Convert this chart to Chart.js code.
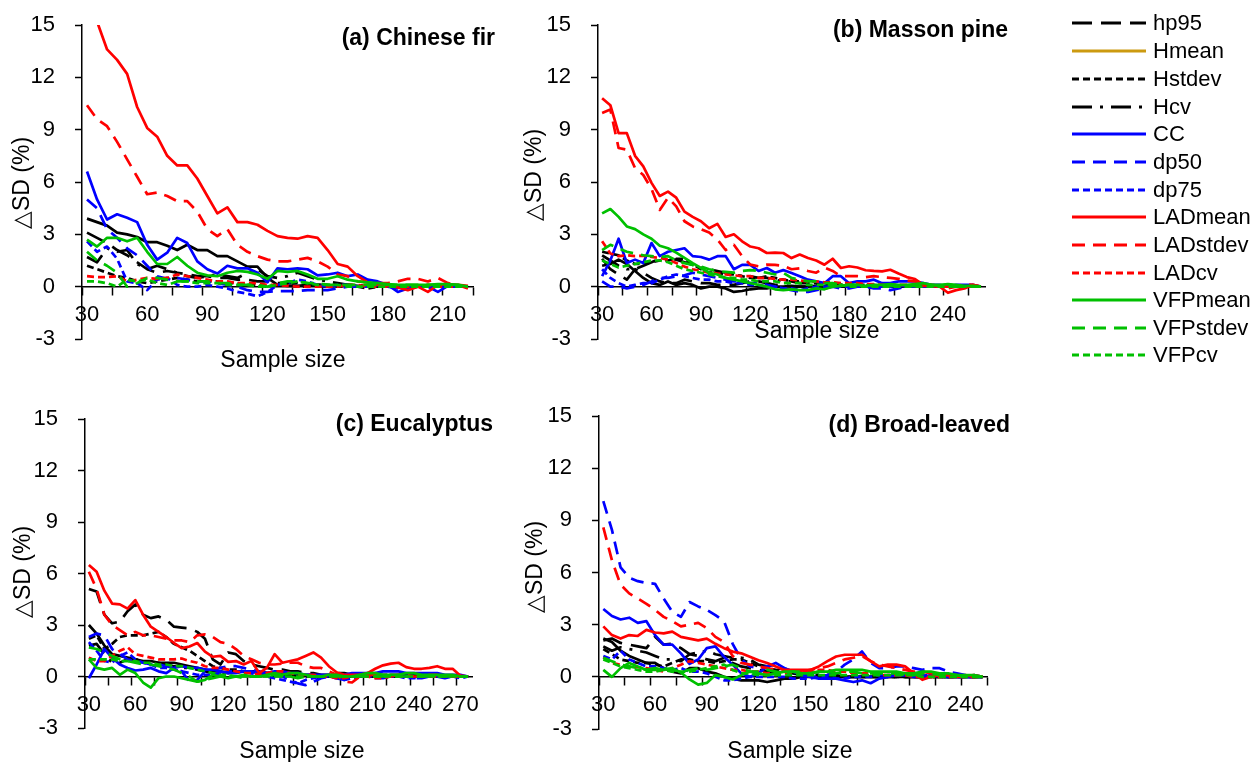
<!DOCTYPE html>
<html>
<head>
<meta charset="utf-8">
<script src="https://cdn.jsdelivr.net/npm/chart.js@4.4.1/dist/chart.umd.min.js"></script>
<style>
  body { margin: 0; width: 1255px; height: 762px; position: relative; overflow: hidden; background: #fff;
         font-family: 'Liberation Sans', Arial, sans-serif; color: #000; }
  canvas { position: absolute; }
  .lbl { position: absolute; white-space: nowrap; font-size: 23px; line-height: 26px; }
  .ptitle { font-weight: bold; text-align: right; }
  .ytitle { transform: translate(-50%, -50%) rotate(-90deg); }
  .xtitle { transform: translate(-50%, -50%); }
  .item { position: absolute; left: 1072px; height: 26px; display: flex; align-items: center;
          font-size: 22px; white-space: nowrap; }
  .item svg { margin-right: 7px; }
</style>
</head>
<body>
<canvas id="chartA" width="500" height="384" style="left:0;top:-10px"></canvas>
<canvas id="chartB" width="500" height="384" style="left:510px;top:-10px"></canvas>
<canvas id="chartC" width="500" height="379" style="left:0;top:384px"></canvas>
<canvas id="chartD" width="500" height="383" style="left:510px;top:381px"></canvas>

<div class="lbl ptitle" style="right:760px;top:24px">(a) Chinese fir</div>
<div class="lbl ptitle" style="right:247px;top:16px">(b) Masson pine</div>
<div class="lbl ptitle" style="right:762px;top:410px">(c) Eucalyptus</div>
<div class="lbl ptitle" style="right:245px;top:411px">(d) Broad-leaved</div>

<div class="lbl ytitle" style="left:21px;top:183px">△SD (%)</div>
<div class="lbl ytitle" style="left:533px;top:175px">△SD (%)</div>
<div class="lbl ytitle" style="left:22px;top:572px">△SD (%)</div>
<div class="lbl ytitle" style="left:534px;top:567px">△SD (%)</div>

<div class="lbl xtitle" style="left:283px;top:359px">Sample size</div>
<div class="lbl xtitle" style="left:817px;top:330px">Sample size</div>
<div class="lbl xtitle" style="left:302px;top:750px">Sample size</div>
<div class="lbl xtitle" style="left:790px;top:750px">Sample size</div>

<div id="legend"></div>

<script>
// ---- sample sizes (categories) ----
const sizesA = [30, 35, 40, 45, 50, 55, 60, 65, 70, 75, 80, 85, 90, 95, 100, 105, 110, 115, 120, 125,
  130, 135, 140, 145, 150, 155, 160, 165, 170, 175, 180, 185, 190, 195, 200, 205, 210, 215, 220];
const sizesB = [30, 35, 40, 45, 50, 55, 60, 65, 70, 75, 80, 85, 90, 95, 100, 105, 110, 115, 120, 125,
  130, 135, 140, 145, 150, 155, 160, 165, 170, 175, 180, 185, 190, 195, 200, 205, 210, 215, 220, 225,
  230, 235, 240, 245, 250, 255, 260];
const sizesC = [30, 35, 40, 45, 50, 55, 60, 65, 70, 75, 80, 85, 90, 95, 100, 105, 110, 115, 120, 125,
  130, 135, 140, 145, 150, 155, 160, 165, 170, 175, 180, 185, 190, 195, 200, 205, 210, 215, 220, 225,
  230, 235, 240, 245, 250, 255, 260, 265, 270, 275];
const sizesD = [30, 35, 40, 45, 50, 55, 60, 65, 70, 75, 80, 85, 90, 95, 100, 105, 110, 115, 120, 125,
  130, 135, 140, 145, 150, 155, 160, 165, 170, 175, 180, 185, 190, 195, 200, 205, 210, 215, 220, 225,
  230, 235, 240, 245, 250];

// ---- (a) Chinese fir ----
const hp95A = [3.1, 2.8, 2.5, 2.1, 1.8, 1.4, 1.0, 0.8, 0.9, 0.8,
  0.7, 0.6, 0.6, 0.5, 0.5, 0.4, 0.4, 0.3, 0.3, 0.2,
  0.2, 0.2, 0.1, 0.1, 0.1, 0.1, 0.1, 0.0, 0.0, 0.0,
  0.0, 0.0, 0.0, 0.1, 0.0, 0.0, 0.1, 0.0, 0.0];
const hMeanA = [3.9, 3.7, 3.5, 3.1, 3.0, 2.85, 2.55, 2.55, 2.35, 2.1,
  2.4, 2.1, 2.1, 1.75, 1.75, 1.45, 1.15, 1.15, 0.5, 0.1,
  0.05, 0.05, 0.1, 0.05, 0.0, 0.05, 0.1, 0.05, 0.0, 0.05,
  0.1, 0.05, 0.0, 0.05, 0.0, 0.05, 0.1, 0.05, 0.0];
const hStdevA = [1.2, 1.0, 0.8, 0.6, 0.5, 0.3, 0.2, 0.3, 0.4, 0.5,
  0.4, 0.3, 0.3, 0.3, 0.2, 0.2, 0.1, 0.1, 0.0, 0.1,
  0.1, 0.0, 0.0, 0.1, 0.1, 0.0, 0.0, 0.0, -0.1, 0.0,
  0.0, 0.0, 0.0, 0.0, 0.0, 0.0, 0.0, 0.0, 0.0];
const hCvA = [1.7, 1.4, 2.2, 2.0, 2.1, 1.3, 1.0, 1.2, 1.0, 0.8,
  0.6, 0.5, 0.6, 0.7, 0.6, 0.5, 0.8, 1.0, 0.6, 0.5,
  0.6, 0.8, 0.6, 0.4, 0.3, 0.2, 0.1, 0.1, 0.0, 0.0,
  0.1, 0.0, 0.0, 0.0, 0.0, 0.0, 0.0, 0.0, 0.0];
const ccA = [6.6, 5.0, 3.85, 4.15, 3.95, 3.7, 2.4, 1.55, 1.95, 2.8,
  2.5, 1.45, 1.0, 0.75, 1.2, 1.05, 1.05, 0.8, 0.25, 1.05,
  1.0, 1.05, 1.0, 0.65, 0.7, 0.8, 0.6, 0.7, 0.4, 0.3,
  0.1, -0.3, -0.1, 0.0, 0.0, -0.3, 0.05, 0.0, 0.0];
const dp50A = [5.0, 4.5, 3.3, 2.8, 2.2, 1.8, 1.2, 0.6, 0.45, 0.5,
  0.4, 0.3, 0.3, 0.2, 0.1, 0.0, -0.2, -0.3, -0.3, -0.25,
  -0.25, -0.25, -0.2, -0.2, -0.2, -0.1, 0.0, 0.0, 0.05, 0.1,
  0.0, -0.1, 0.0, 0.0, 0.0, 0.0, 0.0, 0.05, 0.0];
const dp75A = [2.6, 2.0, 2.3, 1.6, 0.3, 0.2, -0.2, 0.4, 0.5, 0.1,
  0.0, 0.0, 0.1, 0.0, -0.1, -0.3, -0.4, -0.55, -0.3, 0.1,
  0.2, 0.4, 0.3, 0.1, 0.0, 0.1, 0.1, 0.0, 0.0, 0.1,
  0.1, 0.0, 0.0, 0.0, 0.0, 0.0, 0.0, 0.0, 0.0];
const ladMeanA = [17.0, 15.2, 13.6, 13.0, 12.2, 10.3, 9.1, 8.6, 7.5, 6.95,
  6.95, 6.2, 5.2, 4.2, 4.55, 3.7, 3.7, 3.55, 3.2, 2.9,
  2.8, 2.75, 2.9, 2.8, 2.1, 1.3, 1.15, 0.6, 0.25, 0.1,
  0.05, -0.05, -0.2, 0.0, -0.3, 0.1, 0.15, 0.1, -0.1];
const ladStdevA = [10.4, 9.6, 9.2, 8.3, 7.3, 6.3, 5.3, 5.4, 5.2, 4.9,
  4.9, 4.3, 3.3, 2.9, 3.3, 2.4, 2.0, 1.75, 1.55, 1.45,
  1.45, 1.55, 1.65, 1.45, 1.15, 0.7, 0.6, 0.3, 0.25, 0.2,
  0.2, 0.3, 0.45, 0.45, 0.3, 0.5, 0.2, 0.1, 0.05];
const ladCvA = [0.6, 0.55, 0.55, 0.6, 0.3, 0.4, 0.5, 0.45, 0.5, 0.7,
  0.6, 0.5, 0.4, 0.3, 0.3, 0.2, 0.2, 0.2, 0.1, 0.1,
  0.05, 0.0, 0.0, 0.0, 0.0, 0.0, 0.1, 0.1, 0.0, 0.0,
  0.0, 0.0, 0.0, 0.0, 0.1, 0.0, 0.0, 0.0, 0.0];
const vfpMeanA = [2.7, 2.3, 2.8, 2.8, 2.6, 2.8, 2.0, 1.3, 1.3, 1.7,
  1.2, 0.8, 0.65, 0.6, 0.8, 0.9, 0.85, 0.7, 0.45, 0.9,
  0.85, 0.9, 0.7, 0.45, 0.45, 0.6, 0.4, 0.3, 0.25, 0.2,
  0.15, 0.1, 0.1, 0.1, 0.1, 0.15, 0.15, 0.1, 0.0];
const vfpStdevA = [2.0, 1.5, 1.2, 0.8, 0.0, 0.2, 0.5, 0.5, 0.4, 0.3,
  0.3, 0.3, 0.3, 0.2, 0.2, 0.1, 0.1, 0.1, 0.0, 0.2,
  0.3, 0.3, 0.2, 0.2, 0.1, 0.1, 0.1, 0.1, 0.1, 0.1,
  0.1, 0.1, 0.1, 0.1, 0.1, 0.1, 0.1, 0.1, 0.0];
const vfpCvA = [0.3, 0.3, 0.2, 0.0, 0.4, 0.3, 0.4, 0.2, 0.1, 0.3,
  0.3, 0.2, 0.2, 0.2, 0.1, 0.1, 0.1, 0.0, 0.0, 0.1,
  0.2, 0.3, 0.2, 0.1, 0.1, 0.1, 0.0, 0.0, 0.0, 0.0,
  0.0, 0.0, 0.0, 0.0, 0.0, 0.0, 0.0, 0.0, 0.0];

// ---- (b) Masson pine ----
const hp95B = [1.6, 1.0, 0.7, 0.4, 1.0, 0.8, 0.5, 0.3, 0.2, 0.2,
  0.4, 0.3, 0.2, 0.2, 0.1, 0.1, 0.1, 0.2, 0.3, 0.3,
  0.2, 0.1, 0.1, 0.0, 0.0, 0.0, -0.1, 0.0, 0.0, 0.0,
  0.0, 0.0, 0.0, 0.0, 0.0, 0.0, 0.0, 0.0, 0.0, 0.0,
  0.0, 0.0, 0.0, 0.0, 0.0, 0.0, 0.0];
const hMeanB = [1.2, 1.3, 1.55, 1.3, 0.9, 0.5, 0.2, 0.1, 0.3, 0.1,
  0.2, 0.1, -0.1, 0.0, 0.0, -0.1, -0.3, -0.25, -0.15, -0.1,
  -0.1, 0.0, 0.0, 0.05, 0.0, 0.0, 0.05, 0.0, 0.0, 0.0,
  0.0, 0.0, 0.0, 0.0, 0.0, 0.0, 0.0, 0.0, 0.0, 0.0,
  0.0, 0.0, 0.0, 0.0, 0.0, 0.0, 0.0];
const hStdevB = [2.0, 1.9, 1.8, 1.5, 1.3, 1.3, 1.4, 1.5, 1.5, 1.6,
  1.6, 1.3, 1.0, 0.8, 0.8, 0.7, 0.7, 0.6, 0.5, 0.5,
  0.6, 0.5, 0.4, 0.3, 0.3, 0.2, 0.2, 0.2, 0.1, 0.1,
  0.1, 0.1, 0.1, 0.1, 0.0, 0.0, 0.0, 0.0, 0.0, 0.0,
  0.0, 0.0, 0.0, 0.0, 0.0, 0.0, 0.0];
const hCvB = [1.8, 1.5, 1.2, 1.0, 1.0, 1.2, 1.4, 1.6, 1.6, 1.55,
  1.4, 1.25, 1.1, 1.0, 0.9, 0.8, 0.7, 0.6, 0.6, 0.5,
  0.5, 0.4, 0.3, 0.3, 0.2, 0.2, 0.1, 0.1, 0.1, 0.1,
  0.0, 0.0, 0.0, 0.0, 0.0, 0.0, 0.0, 0.0, 0.0, 0.0,
  0.0, 0.0, 0.0, 0.0, 0.0, 0.0, 0.0];
const ccB = [0.6, 1.5, 2.75, 1.35, 1.55, 1.35, 2.5, 1.75, 2.0, 2.1,
  2.2, 1.75, 1.7, 1.55, 1.75, 1.75, 1.0, 1.25, 1.25, 0.9,
  1.07, 0.8, 0.95, 0.78, 0.6, 0.4, 0.3, 0.2, 0.6, 0.6,
  0.2, 0.3, 0.3, 0.4, 0.2, 0.2, 0.3, 0.3, 0.3, 0.2,
  0.1, 0.1, 0.0, 0.1, 0.1, 0.1, 0.0];
const dp50B = [0.3, 0.0, 0.0, -0.1, 0.0, 0.1, 0.3, 0.5, 0.5, 0.6,
  0.65, 0.8, 0.7, 0.6, 0.5, 0.4, 0.3, 0.3, 0.2, 0.2,
  0.1, 0.0, -0.1, -0.2, -0.3, -0.3, -0.2, -0.1, 0.0, -0.1,
  -0.1, 0.0, 0.0, -0.1, -0.1, -0.2, -0.1, 0.0, 0.0, 0.0,
  0.0, 0.0, 0.0, 0.0, 0.0, 0.0, 0.0];
const dp75B = [1.0, 0.5, 0.2, 0.0, 0.1, 0.2, 0.2, 0.4, 0.6, 0.7,
  0.6, 0.5, 0.4, 0.4, 0.3, 0.3, 0.2, 0.2, 0.1, 0.1,
  0.0, 0.0, -0.1, -0.1, -0.2, -0.1, 0.0, 0.0, 0.0, 0.0,
  0.0, 0.1, 0.0, 0.0, 0.0, 0.0, 0.1, 0.0, 0.0, 0.0,
  0.0, 0.0, 0.0, 0.0, 0.0, 0.0, 0.0];
const ladMeanB = [10.8, 10.4, 8.8, 8.8, 7.5, 6.9, 5.95, 5.2, 5.45, 5.1,
  4.3, 4.0, 3.75, 3.35, 3.6, 2.85, 3.0, 2.6, 2.3, 2.2,
  1.93, 1.95, 1.93, 1.64, 1.84, 1.64, 1.5, 1.26, 1.6, 1.07,
  1.17, 1.1, 0.94, 0.9, 0.88, 0.97, 0.75, 0.55, 0.44, 0.1,
  0.05, 0.0, -0.35, -0.2, -0.1, 0.1, 0.0];
const ladStdevB = [9.96, 10.15, 7.95, 7.85, 6.8, 6.4, 5.6, 4.4, 5.1, 4.6,
  3.75, 3.45, 3.3, 3.1, 2.7, 2.1, 2.4, 1.75, 1.26, 1.17,
  1.26, 1.25, 1.2, 1.0, 1.05, 0.9, 0.8, 1.1, 0.9, 0.6,
  0.6, 0.6, 0.55, 0.6, 0.55, 0.5, 0.45, 0.35, 0.3, 0.2,
  0.1, 0.05, -0.1, 0.0, 0.15, 0.1, 0.0];
const ladCvB = [2.6, 1.9, 1.75, 1.8, 1.75, 1.78, 1.7, 1.65, 1.55, 1.35,
  1.15, 1.0, 0.9, 0.8, 0.75, 0.7, 0.65, 0.6, 0.6, 0.5,
  0.5, 0.45, 0.4, 0.4, 0.35, 0.3, 0.3, 0.25, 0.25, 0.2,
  0.2, 0.2, 0.15, 0.15, 0.1, 0.1, 0.1, 0.1, 0.05, 0.05,
  0.05, 0.0, 0.0, 0.0, 0.0, 0.0, 0.0];
const vfpMeanB = [4.2, 4.45, 4.0, 3.45, 3.3, 3.0, 2.75, 2.35, 2.2, 1.95,
  1.65, 1.35, 1.07, 0.8, 0.7, 0.5, 0.4, 0.3, 0.2, 0.1,
  0.0, -0.15, -0.2, -0.15, -0.2, -0.2, -0.1, -0.15, 0.0, 0.05,
  0.1, 0.1, 0.05, 0.1, 0.1, 0.15, 0.1, 0.1, 0.15, 0.2,
  0.1, 0.1, 0.15, 0.1, 0.05, 0.05, 0.0];
const vfpStdevB = [2.1, 2.4, 2.2, 2.0, 1.9, 1.8, 1.75, 1.7, 1.75, 1.5,
  1.35, 1.25, 1.15, 1.0, 0.9, 0.85, 0.8, 0.9, 0.95, 0.9,
  0.8, 0.7, 0.8, 0.5, 0.4, 0.3, 0.3, 0.2, 0.2, 0.1,
  0.1, 0.1, 0.1, 0.05, 0.1, 0.05, 0.05, 0.05, 0.05, 0.1,
  0.1, 0.05, 0.0, 0.0, 0.0, 0.0, 0.0];
const vfpCvB = [1.5, 1.3, 1.1, 1.2, 1.3, 1.4, 1.5, 1.5, 1.4, 1.2,
  1.0, 0.9, 0.8, 0.7, 0.6, 0.5, 0.5, 0.4, 0.4, 0.3,
  0.3, 0.3, 0.2, 0.2, 0.2, 0.1, 0.1, 0.1, 0.1, 0.1,
  0.0, 0.0, 0.0, 0.0, 0.0, 0.0, 0.0, 0.0, 0.0, 0.0,
  0.0, 0.0, 0.0, 0.0, 0.0, 0.0, 0.0];

// ---- (c) Eucalyptus ----
const hp95C = [5.1, 4.95, 3.6, 3.1, 3.2, 3.8, 4.2, 3.6, 3.4, 3.5,
  3.3, 2.9, 2.85, 2.8, 2.6, 2.2, 1.0, 0.7, 1.4, 1.3,
  0.9, 0.7, 0.6, 0.5, 0.4, 0.4, 0.3, 0.3, 0.2, 0.2,
  0.1, 0.1, 0.2, 0.2, 0.1, 0.1, 0.0, 0.0, 0.1, 0.1,
  0.0, 0.0, 0.0, 0.0, 0.0, 0.0, 0.0, 0.0, 0.0, 0.0];
const hMeanC = [3.0, 2.5, 1.8, 1.3, 1.2, 1.1, 1.0, 0.9, 0.9, 0.8,
  0.8, 0.8, 0.7, 0.6, 0.5, 0.4, 0.3, 0.3, 0.2, 0.3,
  0.3, 0.3, 0.2, 0.2, 0.2, 0.1, 0.1, 0.1, 0.1, 0.1,
  0.0, 0.0, 0.1, 0.1, 0.1, 0.1, 0.0, 0.0, 0.0, 0.1,
  0.1, 0.1, 0.1, 0.1, 0.0, 0.0, 0.0, 0.0, 0.0, 0.0];
const hStdevC = [2.2, 2.4, 1.6, 1.9, 2.3, 2.4, 2.4, 2.4, 2.5, 2.6,
  2.3, 1.9, 1.7, 1.5, 1.2, 0.9, 0.6, 0.5, 0.4, 0.4,
  0.3, 0.3, 0.3, 0.2, 0.2, 0.1, 0.1, 0.1, 0.0, 0.0,
  0.0, 0.0, 0.0, 0.0, 0.0, 0.0, 0.0, 0.0, 0.0, 0.0,
  0.0, 0.0, 0.0, 0.0, 0.0, 0.0, 0.0, 0.0, 0.0, 0.0];
const hCvC = [1.8, 1.9, 1.3, 0.8, 0.8, 1.0, 1.0, 0.9, 0.8, 0.8,
  0.7, 0.6, 0.5, 0.5, 0.4, 0.3, 0.2, 0.2, 0.2, 0.3,
  0.3, 0.2, 0.2, 0.1, 0.1, 0.1, 0.1, 0.0, 0.0, 0.0,
  0.0, 0.0, 0.0, 0.0, 0.0, 0.0, 0.0, 0.0, 0.0, 0.0,
  0.0, 0.0, 0.0, 0.0, 0.0, 0.0, 0.0, 0.0, 0.0, 0.0];
const ccC = [-0.1, 0.7, 1.6, 1.1, 0.7, 0.5, 0.35, 0.4, 0.5, 0.3,
  0.2, 0.5, 0.6, 0.5, 0.5, 0.4, 0.4, 0.3, 0.2, 0.2,
  0.3, 0.3, 0.2, 0.2, 0.3, 0.3, 0.2, 0.2, 0.1, 0.1,
  0.1, 0.1, 0.1, 0.1, 0.2, 0.2, 0.2, 0.2, 0.3, 0.3,
  0.3, 0.2, 0.2, 0.2, 0.2, 0.2, 0.1, 0.1, 0.1, 0.0];
const dp50C = [2.3, 2.5, 2.4, 1.6, 1.3, 1.0, 0.9, 0.8, 0.7, 0.7,
  0.6, 0.5, 0.3, -0.3, -0.2, 0.3, 0.4, 0.5, 0.6, 0.6,
  0.5, 0.4, 0.3, 0.2, 0.1, 0.0, -0.2, -0.4, -0.5, -0.3,
  -0.1, 0.0, -0.1, -0.2, -0.1, 0.0, 0.0, -0.1, -0.1, 0.0,
  0.0, 0.0, -0.1, -0.1, 0.0, 0.0, -0.1, 0.0, 0.0, 0.0];
const dp75C = [2.0, 1.5, 0.9, 0.8, 1.2, 1.4, 1.0, 0.8, 0.7, 0.5,
  0.5, 0.4, 0.3, 0.2, 0.1, 0.1, 0.1, 0.2, 0.3, 0.3,
  0.3, 0.2, 0.1, 0.0, -0.1, -0.2, -0.3, -0.4, -0.2, -0.1,
  0.0, 0.0, -0.1, -0.2, -0.1, 0.0, 0.0, 0.0, 0.0, 0.0,
  0.0, -0.1, -0.1, 0.0, 0.0, 0.0, 0.0, 0.0, -0.1, 0.0];
const ladMeanC = [6.5, 6.1, 5.0, 4.25, 4.2, 3.95, 4.45, 3.6, 2.9, 2.6,
  2.3, 1.95, 1.65, 1.75, 1.95, 1.45, 1.15, 1.2, 0.85, 0.9,
  0.7, 0.9, 0.2, 0.5, 1.3, 0.8, 0.9, 1.0, 1.2, 1.4,
  1.1, 0.6, 0.25, 0.1, 0.1, 0.1, 0.2, 0.45, 0.65, 0.75,
  0.8, 0.55, 0.45, 0.45, 0.5, 0.6, 0.45, 0.45, 0.05, 0.0];
const ladStdevC = [6.1, 5.1, 3.6, 3.0, 2.7, 2.4, 2.6, 2.4, 2.4, 2.3,
  2.2, 2.1, 2.1, 2.0, 2.4, 2.45, 2.3, 2.0, 1.9, 1.6,
  1.2, 1.0, 0.8, 0.7, 0.7, 0.75, 0.8, 0.8, 0.6, 0.5,
  0.5, 0.3, 0.1, -0.3, -0.35, 0.0, 0.1, 0.1, 0.0, 0.0,
  0.1, 0.1, 0.0, 0.0, 0.1, 0.1, 0.0, 0.0, 0.0, 0.0];
const ladCvC = [1.1, 0.9, 0.9, 1.2, 1.5, 1.7, 1.3, 1.2, 1.1, 1.0,
  1.0, 1.0, 1.05, 0.9, 0.8, 0.6, 0.5, 0.5, 0.4, 0.3,
  0.2, 0.2, 0.1, 0.2, 0.3, 0.3, 0.2, 0.1, 0.1, 0.1,
  0.0, 0.0, -0.1, -0.1, 0.0, 0.0, 0.0, -0.1, -0.1, 0.0,
  0.0, 0.0, 0.0, 0.0, 0.0, 0.0, 0.0, 0.0, 0.0, 0.0];
const vfpMeanC = [1.0, 0.5, 0.4, 0.5, 0.1, 0.4, 0.2, -0.35, -0.65, -0.1,
  0.0, 0.0, -0.1, -0.2, -0.3, -0.2, 0.1, 0.0, -0.1, 0.0,
  0.1, 0.0, 0.0, 0.1, 0.2, 0.1, 0.2, 0.2, 0.1, 0.0,
  0.0, 0.1, 0.1, 0.0, 0.0, 0.1, 0.2, 0.2, 0.1, 0.1,
  0.1, 0.2, 0.2, 0.1, 0.1, 0.1, 0.1, 0.1, 0.0, 0.0];
const vfpStdevC = [1.7, 1.6, 1.4, 1.2, 1.0, 0.9, 0.8, 0.7, 0.7, 0.6,
  0.5, 0.4, 0.2, 0.0, -0.3, -0.2, -0.1, 0.0, 0.0, 0.0,
  -0.1, 0.0, 0.0, 0.0, 0.1, 0.0, 0.0, -0.1, 0.0, 0.0,
  0.0, 0.0, 0.0, 0.0, 0.0, 0.0, 0.0, 0.0, 0.0, 0.0,
  0.0, 0.0, 0.0, 0.0, 0.0, 0.0, 0.0, 0.0, 0.0, 0.0];
const vfpCvC = [1.0, 1.0, 1.0, 1.0, 0.9, 0.9, 0.9, 0.8, 0.8, 0.7,
  0.7, 0.6, 0.6, 0.5, 0.4, 0.3, 0.2, 0.1, 0.1, 0.0,
  0.0, 0.0, 0.0, 0.0, 0.0, 0.0, 0.0, 0.0, 0.0, 0.0,
  0.0, 0.0, 0.0, 0.0, 0.0, 0.0, 0.0, 0.0, 0.0, 0.0,
  0.0, 0.0, 0.0, 0.0, 0.0, 0.0, 0.0, 0.0, 0.0, 0.0];

// ---- (d) Broad-leaved ----
const hp95D = [2.1, 2.2, 1.95, 1.85, 1.75, 1.65, 2.3, 1.85, 1.9, 1.65,
  1.3, 1.2, 1.0, 0.9, 1.1, 0.8, 0.6, 0.5, 0.4, 0.3,
  0.3, 0.2, 0.2, 0.1, 0.1, 0.0, 0.0, 0.0, 0.0, 0.0,
  0.0, 0.0, 0.0, 0.0, 0.0, 0.0, 0.0, 0.0, 0.0, 0.0,
  0.0, 0.0, 0.0, 0.0, 0.0];
const hMeanD = [2.2, 2.0, 1.5, 1.2, 1.0, 0.8, 0.8, 0.5, 0.3, 0.2,
  0.5, 0.5, 0.3, 0.2, 0.0, -0.1, -0.2, -0.2, -0.2, -0.3,
  -0.2, -0.1, -0.1, 0.0, 0.0, 0.0, 0.1, 0.1, 0.0, 0.0,
  0.0, 0.0, 0.0, 0.0, 0.0, 0.0, 0.0, 0.0, 0.0, 0.0,
  0.0, 0.0, 0.0, 0.0, 0.0];
const hStdevD = [1.6, 1.3, 1.0, 0.9, 0.8, 0.8, 0.7, 0.6, 0.8, 1.0,
  1.0, 0.9, 0.9, 0.8, 0.9, 1.0, 1.0, 0.8, 0.6, 0.5,
  0.4, 0.3, 0.2, 0.2, 0.1, 0.1, 0.0, 0.0, 0.0, 0.0,
  0.0, 0.0, 0.0, 0.0, 0.0, 0.0, 0.0, 0.0, 0.0, 0.0,
  0.0, 0.0, 0.0, 0.0, 0.0];
const hCvD = [1.75, 1.5, 1.7, 1.6, 1.5, 1.4, 1.2, 1.0, 1.0, 0.9,
  1.3, 1.4, 1.5, 1.3, 1.2, 1.1, 1.1, 1.0, 0.7, 0.6,
  0.5, 0.4, 0.3, 0.2, 0.2, 0.1, 0.1, 0.0, 0.0, 0.0,
  0.0, 0.0, 0.0, 0.0, 0.0, 0.0, 0.0, 0.0, 0.0, 0.0,
  0.0, 0.0, 0.0, 0.0, 0.0];
const ccD = [3.9, 3.5, 3.3, 3.4, 3.1, 3.2, 2.4, 1.85, 1.85, 1.35,
  0.75, 1.0, 1.65, 1.75, 1.15, 0.7, 0.2, 0.0, 0.2, 0.6,
  0.8, 0.5, 0.3, 0.1, 0.0, -0.1, -0.1, -0.1, -0.2, -0.3,
  -0.2, -0.37, -0.1, 0.0, 0.1, 0.1, 0.0, 0.0, 0.1, 0.1,
  0.0, 0.0, 0.0, 0.0, 0.0];
const dp50D = [10.1, 8.45, 6.3, 5.7, 5.5, 5.4, 5.35, 4.5, 3.75, 3.45,
  4.3, 4.05, 3.85, 3.55, 3.2, 1.9, 1.0, 0.6, 0.5, 0.6,
  0.7, 0.5, 0.3, 0.2, 0.1, 0.0, 0.1, 0.3, 0.7, 1.0,
  1.46, 0.8, 0.5, 0.5, 0.6, 0.6, 0.5, 0.4, 0.5, 0.5,
  0.3, 0.2, 0.1, 0.1, 0.0];
const dp75D = [1.2, 1.0, 1.5, 1.0, 0.8, 0.6, 0.6, 0.5, 0.4, 0.5,
  0.3, 0.3, 0.2, 0.0, -0.2, -0.2, -0.1, 0.0, 0.0, 0.0,
  0.0, 0.0, -0.1, -0.1, -0.1, 0.0, 0.0, -0.1, -0.1, 0.0,
  0.0, 0.0, 0.1, 0.1, 0.1, 0.1, 0.1, 0.1, 0.1, 0.0,
  0.0, 0.0, 0.0, 0.0, 0.0];
const ladMeanD = [2.9, 2.4, 2.2, 2.4, 2.35, 2.7, 2.55, 2.5, 2.6, 2.3,
  2.2, 2.1, 2.2, 1.9, 1.65, 1.45, 1.35, 1.15, 0.95, 0.8,
  0.6, 0.4, 0.4, 0.4, 0.4, 0.6, 0.9, 1.17, 1.27, 1.27,
  1.27, 0.9, 0.6, 0.7, 0.7, 0.6, 0.2, -0.17, 0.0, 0.1,
  0.1, 0.0, 0.05, 0.1, 0.0];
const ladStdevD = [8.6, 6.7, 5.3, 4.8, 4.5, 4.2, 3.85, 3.45, 3.2, 2.9,
  3.0, 3.1, 2.8, 2.3, 2.0, 1.2, 0.8, 0.7, 0.6, 0.5,
  0.4, 0.3, 0.3, 0.3, 0.4, 0.5, 0.6, 0.8, 1.0, 1.1,
  1.2, 0.9, 0.7, 0.6, 0.5, 0.4, 0.3, 0.3, 0.2, 0.2,
  0.1, 0.1, 0.1, 0.0, 0.0];
const ladCvD = [1.1, 0.8, 0.7, 0.6, 0.55, 0.5, 0.4, 0.3, 0.5, 0.7,
  0.9, 0.8, 0.7, 0.6, 0.5, 0.4, 0.4, 0.3, 0.3, 0.2,
  0.2, 0.2, 0.2, 0.3, 0.3, 0.4, 0.4, 0.3, 0.3, 0.2,
  0.2, 0.2, 0.1, 0.1, 0.1, 0.1, 0.0, 0.0, 0.0, 0.0,
  0.0, 0.0, 0.0, 0.0, 0.0];
const vfpMeanD = [0.4, 0.0, 0.5, 0.8, 0.6, 0.4, 0.5, 0.4, 0.5, 0.25,
  -0.15, -0.45, -0.35, 0.1, 0.0, -0.15, 0.1, 0.3, 0.2, 0.1,
  0.2, 0.3, 0.3, 0.2, 0.2, 0.3, 0.3, 0.4, 0.4, 0.4,
  0.4, 0.3, 0.3, 0.3, 0.3, 0.2, 0.2, 0.3, 0.3, 0.2,
  0.2, 0.1, 0.1, 0.1, 0.0];
const vfpStdevD = [1.1, 0.9, 0.7, 0.6, 0.5, 0.4, 0.4, 0.5, 0.4, 0.3,
  0.4, 0.5, 0.4, 0.5, 0.6, 0.7, 0.5, 0.3, 0.3, 0.4,
  0.3, 0.2, 0.3, 0.3, 0.2, 0.3, 0.3, 0.2, 0.3, 0.3,
  0.2, 0.2, 0.2, 0.2, 0.2, 0.1, 0.1, 0.2, 0.2, 0.1,
  0.1, 0.1, 0.0, 0.0, 0.0];
const vfpCvD = [1.0, 0.8, 0.6, 0.5, 0.4, 0.3, 0.3, 0.4, 0.3, 0.3,
  0.3, 0.4, 0.5, 0.6, 0.7, 0.4, 0.2, 0.2, 0.1, 0.1,
  0.1, 0.1, 0.1, 0.1, 0.1, 0.1, 0.1, 0.1, 0.1, 0.1,
  0.1, 0.1, 0.1, 0.1, 0.1, 0.1, 0.1, 0.0, 0.0, 0.0,
  0.0, 0.0, 0.0, 0.0, 0.0];

const yTicks = [-3, 0, 3, 6, 9, 12, 15];

// Line styles in legend order
const LONG = [20, 9], DASH = [13, 8], SHORT = [7, 4], LONG_DOT = [20, 8, 3, 8];
const series = [
  { name: 'hp95',     color: '#000000', dash: LONG },
  { name: 'Hmean',    color: '#000000', dash: [], swatch: '#cc9a10' }, // drawn black in the plots
  { name: 'Hstdev',   color: '#000000', dash: SHORT },
  { name: 'Hcv',      color: '#000000', dash: LONG_DOT },
  { name: 'CC',       color: '#0000ff', dash: [] },
  { name: 'dp50',     color: '#0000ff', dash: DASH },
  { name: 'dp75',     color: '#0000ff', dash: SHORT },
  { name: 'LADmean',  color: '#ff0000', dash: [] },
  { name: 'LADstdev', color: '#ff0000', dash: DASH },
  { name: 'LADcv',    color: '#ff0000', dash: SHORT },
  { name: 'VFPmean',  color: '#00c000', dash: [] },
  { name: 'VFPstdev', color: '#00c000', dash: DASH },
  { name: 'VFPcv',    color: '#00c000', dash: SHORT }
];

Chart.defaults.font.family = "'Liberation Sans', Arial, sans-serif";
Chart.defaults.font.size = 22;
Chart.defaults.color = '#000';

// the y tick labels reserve ~34px above/below the plot, so every canvas
// carries 35px padding there and is shifted to put the plot where it belongs
function makePanel(id, sizes, values, pad) {
  const datasets = series.map((s, i) => ({
    label: s.name,
    data: values[i],
    borderColor: s.color,
    borderDash: s.dash,
    borderWidth: 2.7,
    borderCapStyle: 'butt',
    borderJoinStyle: 'round',
    pointRadius: 0,
    tension: 0,
    fill: false,
    order: series.length - i   // later series on top
  }));

  new Chart(document.getElementById(id), {
    type: 'line',
    data: { labels: sizes, datasets: datasets },
    options: {
      responsive: false,
      animation: false,
      events: [],
      layout: { padding: pad },
      plugins: { legend: { display: false }, tooltip: { enabled: false } },
      scales: {
        x: {
          type: 'category',
          position: { y: 0 },
          offset: true,
          afterFit: s => { s.height = 0; },
          border: { color: '#000', width: 1.5 },
          grid: {
            offset: true,
            drawOnChartArea: false,
            tickLength: 8,
            tickWidth: 1.5,
            tickColor: ctx => {
              const i = ctx.type === 'tick' ? ctx.index : ctx.scale.ticks.length;
              return i % 3 === 0 ? '#000' : 'rgba(0,0,0,0)';
            }
          },
          ticks: {
            autoSkip: false, maxRotation: 0, minRotation: 0, padding: 0,
            font: { size: 22, lineHeight: 1.85 },
            callback: function (v, i) { return i % 6 === 0 ? this.getLabelForValue(v) : ''; }
          }
        },
        y: {
          min: yTicks[0],
          max: yTicks[yTicks.length - 1],
          afterFit: s => { s.width = 60; },
          afterBuildTicks: s => { s.ticks = yTicks.map(v => ({ value: v })); },
          border: { color: '#000', width: 1.5 },
          grid: { drawOnChartArea: false, tickLength: 7, tickWidth: 1.5, tickColor: '#000' },
          ticks: { padding: 20, font: { size: 22 } }
        }
      }
    }
  });
}

makePanel('chartA', sizesA,
  [hp95A, hMeanA, hStdevA, hCvA, ccA, dp50A, dp75A, ladMeanA, ladStdevA, ladCvA, vfpMeanA, vfpStdevA, vfpCvA],
  { left: 22, top: 35, right: 27, bottom: 35 });
makePanel('chartB', sizesB,
  [hp95B, hMeanB, hStdevB, hCvB, ccB, dp50B, dp75B, ladMeanB, ladStdevB, ladCvB, vfpMeanB, vfpStdevB, vfpCvB],
  { left: 28, top: 35, right: 25, bottom: 35 });
makePanel('chartC', sizesC,
  [hp95C, hMeanC, hStdevC, hCvC, ccC, dp50C, dp75C, ladMeanC, ladStdevC, ladCvC, vfpMeanC, vfpStdevC, vfpCvC],
  { left: 25, top: 35, right: 28, bottom: 35 });
makePanel('chartD', sizesD,
  [hp95D, hMeanD, hStdevD, hCvD, ccD, dp50D, dp75D, ladMeanD, ladStdevD, ladCvD, vfpMeanD, vfpStdevD, vfpCvD],
  { left: 29, top: 35, right: 23, bottom: 35 });

// Legend on the right
const legendY = [23, 51, 79, 107, 134, 162, 190, 217, 245, 273, 300, 328, 355];
const legend = document.getElementById('legend');
series.forEach((s, i) => {
  const item = document.createElement('div');
  item.className = 'item';
  item.style.top = (legendY[i] - 13) + 'px';
  const dash = s.dash.length ? s.dash.join(' ') : 'none';
  item.innerHTML = '<svg width="74" height="6"><line x1="0" y1="3" x2="74" y2="3" stroke="' +
    (s.swatch || s.color) + '" stroke-width="3" stroke-dasharray="' + dash + '"/></svg>' +
    '<span>' + s.name + '</span>';
  legend.appendChild(item);
});
</script>
</body>
</html>
